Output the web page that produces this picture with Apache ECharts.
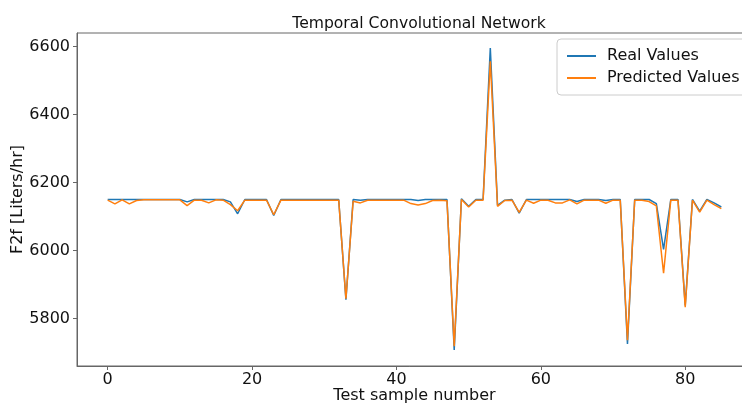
<!DOCTYPE html>
<html>
<head>
<meta charset="utf-8">
<script src="https://cdn.jsdelivr.net/npm/echarts@6/dist/echarts.min.js"></script>
<style>
  html, body { margin: 0; padding: 0; background: #fff; }
  #chart { width: 742px; height: 403px; }
</style>
</head>
<body>
<div id="chart"></div>
<script>
// values, sample 0..85
const realValues = [
  6150, 6150, 6150, 6150, 6150, 6150, 6150, 6150, 6150, 6150,
  6150, 6143, 6150, 6150, 6150, 6150, 6150, 6143, 6108, 6150,
  6150, 6150, 6150, 6103, 6150, 6150, 6150, 6150, 6150, 6150,
  6150, 6150, 6150, 5855, 6150, 6148, 6150, 6150, 6150, 6150,
  6150, 6150, 6150, 6147, 6150, 6150, 6150, 6150, 5707, 6152,
  6130, 6150, 6150, 6596, 6133, 6148, 6150, 6110, 6150, 6150,
  6150, 6150, 6150, 6150, 6150, 6144, 6150, 6150, 6150, 6147,
  6150, 6150, 5725, 6150, 6150, 6150, 6138, 6003, 6150, 6150,
  5838, 6150, 6116, 6150, 6140, 6128
];
const predictedValues = [
  6148, 6137, 6149, 6137, 6147, 6149, 6149, 6149, 6149, 6149,
  6149, 6132, 6148, 6148, 6140, 6149, 6148, 6135, 6117, 6148,
  6148, 6148, 6148, 6105, 6148, 6148, 6148, 6148, 6148, 6148,
  6148, 6148, 6148, 5858, 6145, 6140, 6148, 6148, 6148, 6148,
  6148, 6148, 6138, 6134, 6138, 6147, 6148, 6146, 5718, 6150,
  6128, 6148, 6148, 6557, 6130, 6147, 6148, 6112, 6148, 6139,
  6148, 6148, 6140, 6140, 6149, 6137, 6148, 6148, 6148, 6139,
  6148, 6148, 5736, 6148, 6148, 6144, 6131, 5933, 6148, 6148,
  5833, 6148, 6113, 6148, 6135, 6123
];
const xTicks = [0, 20, 40, 60, 80];
const yTicks = [5800, 6000, 6200, 6400, 6600];

const axisColor = '#666';
const fontFamily = 'DejaVu Sans';

// turn a list into [index, value] pairs
function toPoints(values) {
  return values.map(function (v, i) { return [i, v]; });
}

const chart = echarts.init(document.getElementById('chart'), null, { renderer: 'canvas' });

const option = {
  animation: false,
  backgroundColor: '#fff',
  title: {
    text: 'Temporal Convolutional Network',
    left: 414,
    top: 11,
    textAlign: 'center',
    textStyle: { fontFamily: fontFamily, fontSize: 15.6, fontWeight: 'normal', color: '#111' }
  },
  grid: {
    left: 77,
    right: -10,
    top: 33,
    bottom: 37,
    outerBoundsMode: 'none',
    containLabel: false,
    show: true,
    borderColor: axisColor,
    borderWidth: 1
  },
  legend: {
    orient: 'vertical',
    left: 557,
    top: 39,
    icon: 'rect',
    itemWidth: 29,
    itemHeight: 2,
    itemGap: 4,
    padding: [8, 12, 8, 10],
    borderColor: '#ccc',
    borderWidth: 1,
    borderRadius: 4,
    backgroundColor: '#fff',
    textStyle: { fontFamily: fontFamily, fontSize: 16, color: '#111', lineHeight: 18, padding: [0, 0, 0, 6] },
    data: ['Real Values', 'Predicted Values']
  },
  xAxis: {
    type: 'value',
    min: -4.25,
    max: 89.25,
    name: 'Test sample number',
    nameLocation: 'middle',
    nameGap: 22,
    nameMoveOverlap: false,
    nameTextStyle: { fontFamily: fontFamily, fontSize: 16, color: '#111' },
    axisLine: { show: true, onZero: false, lineStyle: { color: axisColor } },
    axisTick: { show: true, customValues: xTicks, length: 4, lineStyle: { color: axisColor } },
    axisLabel: { customValues: xTicks, fontFamily: fontFamily, fontSize: 16, color: '#111', margin: 6 },
    splitLine: { show: false }
  },
  yAxis: {
    type: 'value',
    min: 5660,
    max: 6640,
    name: 'F2f [Liters/hr]',
    nameLocation: 'middle',
    nameGap: 51,
    nameMoveOverlap: false,
    nameRotate: 90,
    nameTextStyle: { fontFamily: fontFamily, fontSize: 16, color: '#111' },
    axisLine: { show: true, onZero: false, lineStyle: { color: axisColor } },
    axisTick: { show: true, customValues: yTicks, length: 4, lineStyle: { color: axisColor } },
    axisLabel: {
      customValues: yTicks,
      fontFamily: fontFamily,
      fontSize: 16,
      color: '#111',
      margin: 7,
      formatter: function (v) { return String(v); }
    },
    splitLine: { show: false }
  },
  series: [
    {
      name: 'Real Values',
      type: 'line',
      data: toPoints(realValues),
      showSymbol: false,
      color: '#1f77b4',
      lineStyle: { width: 1.5 },
      z: 2
    },
    {
      name: 'Predicted Values',
      type: 'line',
      data: toPoints(predictedValues),
      showSymbol: false,
      color: '#ff7f0e',
      lineStyle: { width: 1.5 },
      z: 3
    }
  ]
};

chart.setOption(option);
</script>
</body>
</html>
